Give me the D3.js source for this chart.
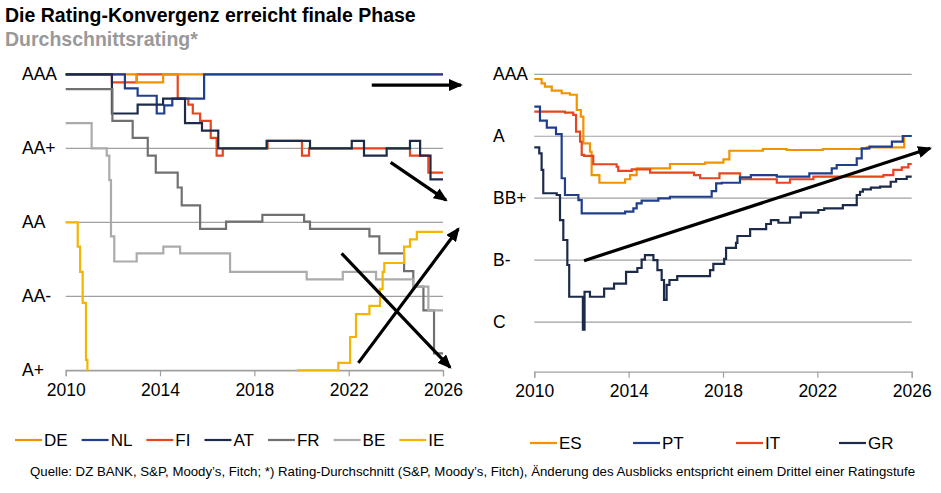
<!DOCTYPE html>
<html>
<head>
<meta charset="utf-8">
<script src="https://cdn.jsdelivr.net/npm/d3@7"></script>
<style>
  body { margin: 0; background: #fff; }
  text { font-family: Arial, "Liberation Sans", sans-serif; }
</style>
</head>
<body>
<svg id="chart" width="941" height="493"></svg>
<script>
// Rating data: [year, rating level] step points (left: notches below AAA, right: notch index AAA=1)

var years = [2010, 2014, 2018, 2022, 2026];

var leftTicks = [0, 1, 2, 3, 4];
var leftLabels = ["AAA", "AA+", "AA", "AA-", "A+"];
var rightTicks = [1, 6, 11, 16, 21];
var rightLabels = ["AAA", "A", "BB+", "B-", "C"];

var leftNames = ["DE", "NL", "FI", "AT", "FR", "BE", "IE"];
var rightNames = ["ES", "PT", "IT", "GR"];

var DE = [[2010,0],[2013.01,0.11],[2014.13,0],[2026,0]];
var NL = [[2010,0],[2012.51,0.19],[2013.05,0.29],[2013.86,0.53],[2014.18,0.42],[2014.52,0.33],[2015.87,0],[2026,0]];
var FI = [[2010,0],[2011.96,0.11],[2013.01,0],[2014.75,0.33],[2015.2,0.41],[2015.39,0.53],[2015.7,0.63],[2016.15,0.86],
          [2016.4,1.1],[2016.66,1.0],[2018.56,0.9],[2020.02,1.1],[2020.32,1.0],[2024.6,1.1],[2025.38,1.33],[2026,1.33]];
var AT = [[2010,0],[2011.96,0.53],[2013.05,0.41],[2014.13,0.33],[2015.06,0.66],[2015.78,0.76],[2016.47,1.0],[2018.52,0.9],
          [2020.36,1.0],[2022.13,0.9],[2022.65,1.1],[2023.61,1.0],[2024.6,0.9],[2025.03,1.1],[2025.47,1.42],[2026,1.42]];
var FR = [[2010,0.2],[2011.98,0.63],[2012.84,0.86],[2013.48,1.1],[2013.82,1.33],[2014.75,1.53],[2014.92,1.77],[2015.7,2.09],
          [2016.8,1.99],[2018.34,1.9],[2020.11,1.99],[2020.36,2.09],[2022.88,2.19],[2023.3,2.42],[2024.35,2.66],[2024.74,2.87],
          [2025.17,3.19],[2025.62,3.77],[2026,3.77]];
var BE = [[2010,0.66],[2011.1,1.0],[2011.74,1.1],[2011.85,1.43],[2011.92,2.19],[2012.06,2.53],[2013.01,2.42],[2014.14,2.33],
          [2014.85,2.42],[2016.97,2.67],[2020.22,2.77],[2021.75,2.67],[2023.16,2.77],[2024.74,2.87],[2025.38,3.19],[2026,3.19]];
var IE = [[2010,2.0],[2010.51,2.33],[2010.61,2.67],[2010.72,3.09],[2010.86,3.86],[2010.92,6],[2019.86,4.0],[2021.56,3.9],
          [2022.06,3.55],[2022.31,3.24],[2022.88,3.13],[2023.33,2.9],[2023.44,2.67],[2023.51,2.55],[2024.35,2.33],[2024.6,2.23],
          [2024.89,2.13],[2026,2.13]];

var ES = [[2010,1.38],[2010.31,1.73],[2010.45,2.0],[2010.74,2.32],[2011.16,2.53],[2011.51,2.65],[2011.8,3.88],[2011.97,4.42],
          [2012.08,6.57],[2012.36,7.25],[2012.43,9.13],[2012.76,9.75],[2013.85,9.47],[2014.06,9.13],[2014.34,8.59],[2015.75,8.24],
          [2017.24,8.13],[2018.02,7.86],[2018.27,7.17],[2019.69,7.03],[2020.7,7.11],[2022.23,7.03],[2024.1,6.89],[2025.68,5.98],[2026,5.98]];
var PT = [[2010,3.61],[2010.24,4.74],[2010.53,5.31],[2010.92,5.82],[2011.16,9.39],[2011.3,10.74],[2011.87,11.15],[2012.01,12.22],
          [2013.85,12.09],[2014.2,11.82],[2014.34,11.41],[2014.55,11.2],[2015.26,11.01],[2015.75,10.88],[2017.52,10.42],[2017.71,9.8],
          [2017.95,9.75],[2018.72,9.31],[2019.18,9.13],[2020.28,9.26],[2021.66,8.99],[2022.61,8.59],[2022.82,8.32],[2023.67,7.78],
          [2023.88,6.97],[2024.21,6.84],[2025.16,6.44],[2025.62,5.98],[2026,5.98]];
var IT = [[2010,4.02],[2011.3,4.1],[2011.65,4.28],[2011.77,5.63],[2011.94,6.44],[2012.01,7.51],[2012.11,7.59],[2012.5,8.26],
          [2013.49,8.46],[2013.56,8.8],[2014.13,8.67],[2014.91,8.94],[2016.77,9.13],[2017.03,9.39],[2017.85,8.99],[2018.72,9.47],
          [2020.28,9.75],[2020.84,9.47],[2021.83,9.26],[2024.8,9.13],[2025.22,8.72],[2025.58,8.51],[2025.86,8.24],[2026,8.24]];
var GR = [[2010,6.89],[2010.21,7.38],[2010.31,8.72],[2010.38,10.6],[2010.95,10.74],[2011.09,12.76],[2011.23,14.37],[2011.4,16.39],
          [2011.48,18.95],[2012.06,21.6],[2012.13,18.55],[2012.36,18.95],[2012.96,18.3],[2013.38,17.89],[2013.89,16.95],[2014.37,16.63],
          [2014.55,15.95],[2014.69,15.6],[2015.05,16.0],[2015.22,16.8],[2015.4,17.6],[2015.5,19.2],[2015.61,18.0],[2015.73,17.6],
          [2016.06,17.28],[2017.45,16.8],[2017.59,16.3],[2018.05,15.9],[2018.13,15.0],[2018.55,14.6],[2018.61,14.05],[2019.15,13.5],
          [2019.83,13.08],[2020.03,12.76],[2020.35,12.98],[2020.84,12.54],[2021.3,12.17],[2022.04,11.95],[2022.29,11.82],[2023.08,11.55],
          [2023.67,10.74],[2023.81,10.48],[2023.93,10.28],[2024.27,10.15],[2024.66,10.07],[2025.11,9.67],[2025.34,9.45],[2025.79,9.26],[2026,9.26]];

// arrows in data units: [x1, y1, x2, y2]
var leftArrows = [[2022.98,0.145,2026.76,0.145],[2023.78,1.19,2026.13,1.7],[2021.7,2.42,2026.3,3.96],[2022.41,3.9,2026.65,2.09]];
var rightArrows = [[2012.11,16.04,2026.78,6.97]];

var colors = {DE:"#f39200", NL:"#1f3f8c", FI:"#e6461e", AT:"#1c2b4a", FR:"#707070", BE:"#ababab", IE:"#f5b400",
              ES:"#f39200", PT:"#1f3f8c", IT:"#e6461e", GR:"#1c2b4a"};

var leftSeries = [["FI",FI],["DE",DE],["NL",NL],["AT",AT],["FR",FR],["BE",BE],["IE",IE]];
var rightSeries = [["ES",ES],["IT",IT],["PT",PT],["GR",GR]];

var svg = d3.select("#chart");

svg.append("defs").append("marker")
    .attr("id", "head")
    .attr("markerUnits", "userSpaceOnUse")
    .attr("viewBox", "0 -6 14 12")
    .attr("markerWidth", 14).attr("markerHeight", 12)
    .attr("refX", 12).attr("refY", 0)
    .attr("orient", "auto")
  .append("path").attr("d", "M0,-6L14,0L0,6Z").attr("fill", "#000");

svg.append("text").attr("x", 5).attr("y", 22)
    .attr("font-size", 19.5).attr("font-weight", "bold").attr("fill", "#000")
    .text("Die Rating-Konvergenz erreicht finale Phase");
svg.append("text").attr("x", 5).attr("y", 46)
    .attr("font-size", 19.5).attr("font-weight", "bold").attr("fill", "#999")
    .text("Durchschnittsrating*");

function drawPanel (opt) {

    var x = d3.scaleLinear().domain([2010, 2026]).range(opt.xr);
    var y = d3.scaleLinear().domain(opt.yd).range([74.3, opt.yBottom]);
    var g = svg.append("g");

    // grid lines
    g.selectAll(".grid").data(opt.ticks).enter().append("line")
        .attr("x1", opt.xr[0]).attr("x2", opt.xr[1])
        .attr("y1", d => y(d)).attr("y2", d => y(d))
        .attr("stroke", "#a0a0a0").attr("stroke-width", 1.2);

    // x axis
    var ax = g.append("g").attr("transform", "translate(0," + opt.yBottom + ")")
        .call(d3.axisBottom(x).tickValues(years).tickFormat(d3.format("d")).tickSize(6).tickPadding(7));
    ax.select(".domain").attr("stroke", "#a0a0a0").attr("stroke-width", 1.2);
    ax.selectAll(".tick line").attr("stroke", "#a0a0a0").attr("stroke-width", 1.2);
    ax.selectAll(".tick text").attr("font-size", 17.5).attr("fill", "#000")
        .style("font-family", "Arial, 'Liberation Sans', sans-serif");

    // y labels
    g.selectAll(".ylab").data(opt.ticks).enter().append("text")
        .attr("x", opt.labelX).attr("y", d => y(d) + 6)
        .attr("font-size", 17.5).attr("fill", "#000")
        .text((d, i) => opt.labels[i]);

    var clipId = "clip" + opt.id;
    svg.select("defs").append("clipPath").attr("id", clipId)
      .append("rect").attr("x", opt.xr[0] - 2).attr("y", 60)
        .attr("width", opt.xr[1] - opt.xr[0] + 4).attr("height", opt.yBottom - 60 + 1);

    var line = d3.line().curve(d3.curveStepAfter)
        .x(d => x(d[0])).y(d => y(d[1]));

    g.append("g").attr("clip-path", "url(#" + clipId + ")")
      .selectAll("path").data(opt.series).enter().append("path")
        .attr("d", d => line(d[1]))
        .attr("fill", "none")
        .attr("stroke", d => colors[d[0]])
        .attr("stroke-width", 2.2)
        .attr("stroke-linejoin", "miter");

    g.selectAll(".arrow").data(opt.arrows).enter().append("line")
        .attr("x1", d => x(d[0])).attr("y1", d => y(d[1]))
        .attr("x2", d => x(d[2])).attr("y2", d => y(d[3]))
        .attr("stroke", "#000").attr("stroke-width", 3.2)
        .attr("marker-end", "url(#head)");
}

drawPanel({id: "L", xr: [65.7, 443], yd: [0, 4], yBottom: 370.3, ticks: leftTicks, labels: leftLabels,
           labelX: 22, series: leftSeries, arrows: leftArrows});
drawPanel({id: "R", xr: [534.3, 911.7], yd: [1, 25], yBottom: 371.7, ticks: rightTicks, labels: rightLabels,
           labelX: 493, series: rightSeries, arrows: rightArrows});

// legends
function drawLegend (names, startX, yPos, step) {
    var cx = startX;
    names.forEach(function (n, i) {
        var lx = step ? startX + i * step : cx;
        svg.append("line").attr("x1", lx).attr("x2", lx + 27)
            .attr("y1", yPos).attr("y2", yPos)
            .attr("stroke", colors[n]).attr("stroke-width", 2.2);
        var t = svg.append("text").attr("x", lx + 29).attr("y", yPos + 6)
            .attr("font-size", 17).attr("fill", "#000").text(n);
        cx = lx + 29 + t.node().getComputedTextLength() + 14;
    });
}
drawLegend(leftNames, 15, 440, 0);
drawLegend(rightNames, 530, 443, 103);

svg.append("text").attr("x", 30).attr("y", 476)
    .attr("font-size", 13).attr("fill", "#000")
    .attr("textLength", 885).attr("lengthAdjust", "spacingAndGlyphs")
    .text("Quelle: DZ BANK, S&P, Moody\u2019s, Fitch; *) Rating-Durchschnitt (S&P, Moody\u2019s, Fitch), \u00c4nderung des Ausblicks entspricht einem Drittel einer Ratingstufe");
</script>
</body>
</html>
